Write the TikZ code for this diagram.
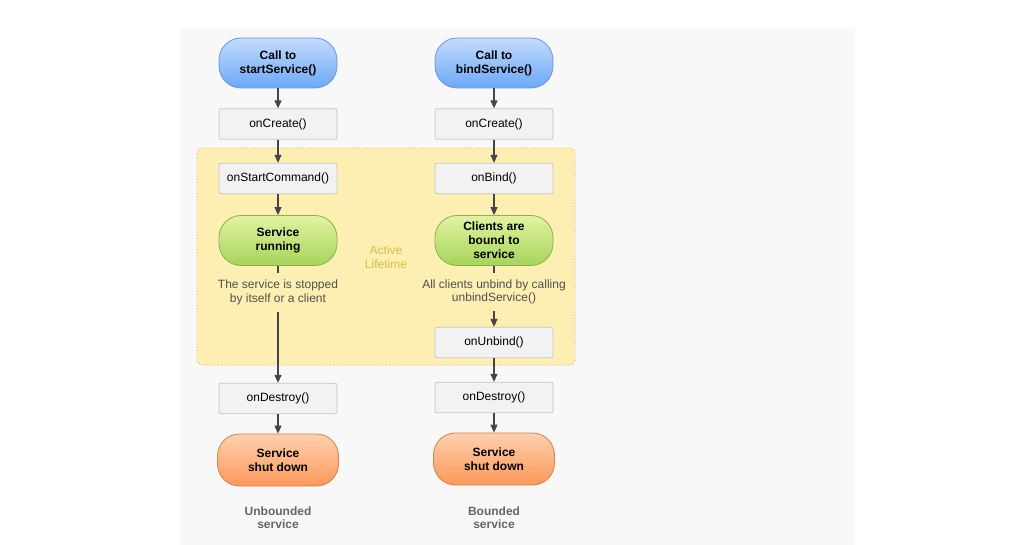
\documentclass[tikz,border=0pt]{standalone}
\usepackage{fontspec}
\setmainfont{Liberation Sans}
\usetikzlibrary{arrows.meta}
\definecolor{panel}{HTML}{F8F8F8}
\definecolor{yel}{HTML}{FDEEB2}
\definecolor{yelborder}{HTML}{E0A050}
\definecolor{boxfill}{HTML}{F2F2F2}
\definecolor{boxline}{HTML}{C6C6C6}
\definecolor{arr}{HTML}{454545}
\definecolor{bluetop}{HTML}{C2DBFD}
\definecolor{bluebot}{HTML}{6CA8F7}
\definecolor{blueline}{HTML}{6E93E0}
\definecolor{greentop}{HTML}{E2F3A2}
\definecolor{greenbot}{HTML}{A6D45A}
\definecolor{greenline}{HTML}{8EB050}
\definecolor{orgtop}{HTML}{FFD0AE}
\definecolor{orgbot}{HTML}{FB985A}
\definecolor{orgline}{HTML}{D5804A}
\definecolor{lifetxt}{HTML}{D6BE48}
\definecolor{notetxt}{HTML}{505050}
\definecolor{labeltxt}{HTML}{666666}
\tikzset{
  pill/.style={rounded corners=22pt, minimum width=118pt, minimum height=50pt,
    align=center, font=\fontsize{12}{14}\selectfont\bfseries, text=black,
    line width=0.8pt, inner sep=0pt},
  bluepill/.style={pill, draw=blueline, top color=bluetop, bottom color=bluebot},
  greenpill/.style={pill, draw=greenline, top color=greentop, bottom color=greenbot},
  orgpill/.style={pill, draw=orgline, top color=orgtop, bottom color=orgbot, minimum width=121pt, minimum height=52pt},
  callbox/.style={draw=boxline, fill=boxfill, rounded corners=2pt, minimum width=118pt,
    minimum height=30.5pt, font=\fontsize{12}{14}\selectfont, text=black, inner sep=0pt, line width=0.8pt},
  note/.style={align=center, font=\fontsize{12}{13.5}\selectfont, text=notetxt, inner sep=0pt, outer sep=7pt},
  kind/.style={align=center, font=\fontsize{12}{13.5}\selectfont\bfseries, text=labeltxt},
  flow/.style={draw=arr, line width=1.1pt, -{Triangle[length=8pt,width=7pt]}},
  plain/.style={draw=arr, line width=1.1pt},
}
\begin{document}
\begin{tikzpicture}[x=1pt,y=-1pt]
\useasboundingbox (0,0) rectangle (1028,545);
\fill[white] (0,0) rectangle (1028,545);
\fill[panel] (180,28) rectangle (855,545);
\draw[yelborder, fill=yel, dotted, line width=0.8pt, rounded corners=6pt] (197,148) rectangle (575,365);

% left column
\node[bluepill] (startL) at (278,63) {Call to\\startService()};
\node[callbox] (createL) at (278,124) {onCreate()};
\node[callbox] (cmdL) at (278,178.5) {onStartCommand()};
\node[greenpill] (runL) at (278,240.5) {Service\\running};
\node[note] (txtL) at (278,292.5) {The service is stopped\\by itself or a client};
\node[callbox] (destroyL) at (278,398.5) {onDestroy()};
\node[orgpill] (shutL) at (278,460) {Service\\shut down};
\node[kind] (kindL) at (278,517.5) {Unbounded\\service};

% right column
\node[bluepill] (startR) at (494,63) {Call to\\bindService()};
\node[callbox] (createR) at (494,124) {onCreate()};
\node[callbox] (bindR) at (494,178.5) {onBind()};
\node[greenpill] (boundR) at (494,240.5) {Clients are\\bound to\\service};
\node[note] (txtR) at (494,292) {All clients unbind by calling\\unbindService()};
\node[callbox] (unbindR) at (494,342.5) {onUnbind()};
\node[callbox] (destroyR) at (494,397.5) {onDestroy()};
\node[orgpill] (shutR) at (494,459) {Service\\shut down};
\node[kind] (kindR) at (494,517.5) {Bounded\\service};

\node[align=center, font=\fontsize{12}{13.5}\selectfont, text=lifetxt] (life) at (386,257) {Active\\Lifetime};

% connectors left
\draw[flow] (startL) -- (createL);
\draw[flow] (createL) -- (cmdL);
\draw[flow] (cmdL) -- (runL);
\draw[plain] (runL) -- (txtL);
\draw[flow] (txtL) -- (destroyL);
\draw[flow] (destroyL) -- (shutL);

% connectors right
\draw[flow] (startR) -- (createR);
\draw[flow] (createR) -- (bindR);
\draw[flow] (bindR) -- (boundR);
\draw[plain] (boundR) -- (txtR);
\draw[flow] (txtR) -- (unbindR);
\draw[flow] (unbindR) -- (destroyR);
\draw[flow] (destroyR) -- (shutR);
\end{tikzpicture}
\end{document}
